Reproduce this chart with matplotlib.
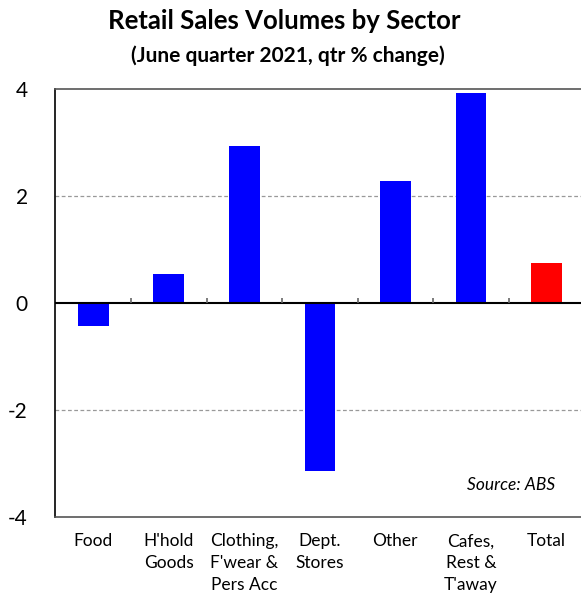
import matplotlib.pyplot as plt
import numpy as np

plt.rcParams['font.family'] = ['Lato', 'DejaVu Sans']

sectors = ["Food", "H'hold\nGoods", "Clothing,\nF'wear &\nPers Acc", "Dept.\nStores",
           "Other", "Cafes,\nRest &\nT'away", "Total"]
qtr_change = [-0.42, 0.54, 2.94, -3.14, 2.28, 3.94, 0.75]
bar_colours = ["blue"] * 6 + ["red"]
yticks = [-4, -2, 0, 2, 4]

fig = plt.figure(figsize=(5.81, 5.96), dpi=100)
ax = fig.add_axes([0.0955, 0.133, 0.91, 0.717])

x = np.arange(len(sectors))
ax.bar(x, qtr_change, width=0.405, color=bar_colours, zorder=3)

ax.set_xlim(-0.5, len(sectors) - 0.5)
ax.set_ylim(-4, 4)
ax.set_yticks(yticks)
ax.set_yticklabels([str(v) for v in yticks], fontsize=15)
ax.tick_params(axis='y', length=0, pad=20)

ax.set_xticks(x)
ax.set_xticklabels(sectors, fontsize=12.5, linespacing=1.45, va='top')
ax.tick_params(axis='x', length=0, pad=12)

# dashed gridlines at +/-2, solid zero line
for v in [-2, 2]:
    ax.axhline(v, color='#999999', lw=0.9, ls=(0, (3, 2)), zorder=1)
ax.axhline(0, color='black', lw=1.5, zorder=4)
# little separators between categories on the zero line
ax.vlines(x[:-1] + 0.5, 0, 0.1, color='#666666', lw=1.2, zorder=4)

for side in ['top', 'bottom']:
    ax.spines[side].set_color('#555555')
    ax.spines[side].set_linestyle((0, (2, 1)))
    ax.spines[side].set_linewidth(1.2)
ax.spines['right'].set_visible(False)
ax.spines['left'].set_color('black')
ax.spines['left'].set_linewidth(1.2)

fig.text(0.88, 0.186, "Source: ABS", ha='center', va='center',
         fontsize=12.5, style='italic')

fig.text(0.49, 0.965, "Retail Sales Volumes by Sector", ha='center', va='center',
         fontsize=18.5, fontweight='bold')
fig.text(0.495, 0.907, "(June quarter 2021, qtr % change)", ha='center', va='center',
         fontsize=15, fontweight='bold')

fig.savefig("out.png", dpi=100)
